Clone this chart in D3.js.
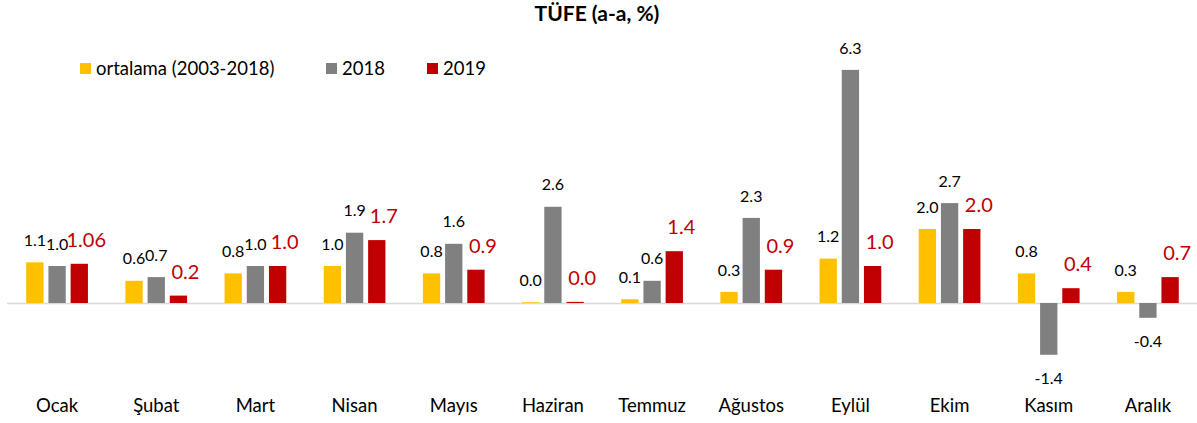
<!DOCTYPE html>
<html>
<head>
<meta charset="utf-8">
<script src="https://cdn.jsdelivr.net/npm/d3@7"></script>
<style>
  html, body { margin: 0; padding: 0; background: #fff; }
  svg { display: block; font-family: Lato, "Noto Sans", sans-serif; }
</style>
</head>
<body>
<svg id="chart" width="1197" height="423"></svg>
<script>
var months = ['Ocak', 'Şubat', 'Mart', 'Nisan', 'Mayıs', 'Haziran', 'Temmuz', 'Ağustos', 'Eylül', 'Ekim', 'Kasım', 'Aralık'];
var seriesNames = ['ortalama (2003-2018)', '2018', '2019'];
var ortalama = [1.1, 0.6, 0.8, 1.0, 0.8, 0.02, 0.1, 0.3, 1.2, 2.0, 0.8, 0.3];
var y2018 = [1.0, 0.7, 1.0, 1.9, 1.6, 2.6, 0.6, 2.3, 6.3, 2.7, -1.4, -0.4];
var y2019 = [1.06, 0.2, 1.0, 1.7, 0.9, 0.03, 1.4, 0.9, 1.0, 2.0, 0.4, 0.7];
var colors = ['#FFC000', '#808080', '#C00000'];

var svg = d3.select('#chart');

var seriesValues = [ortalama, y2018, y2019];

var x0 = d3.scaleBand().domain(months).range([7.5, 1197.5]).padding(0);
var groupWidth = 61.7;
var x1 = d3.scaleBand()
  .domain(d3.range(seriesNames.length))
  .range([(x0.bandwidth() - groupWidth) / 2, (x0.bandwidth() + groupWidth) / 2])
  .paddingInner(0.22);

var y = d3.scaleLinear().domain([-2, 7]).range([377, 44]);

// one or two decimals, like the labels in the source; plain hyphen for minus
function fmt(v) {
  var s = d3.format('.2f')(v);
  if (s.slice(-1) === '0' || Math.abs(v) < 0.05) {
    s = d3.format('.1f')(v);
  }
  return s.replace('\u2212', '-');
}

// title
svg.append('text')
  .attr('x', 597)
  .attr('y', 21)
  .attr('text-anchor', 'middle')
  .attr('font-weight', 'bold')
  .attr('font-size', 21)
  .attr('fill', '#000')
  .text('TÜFE (a-a, %)');

// legend
var legendX = [80, 326, 427];
var legend = svg.append('g').attr('class', 'legend');
seriesNames.forEach(function (name, i) {
  var item = legend.append('g').attr('transform', 'translate(' + legendX[i] + ',63)');
  item.append('rect')
    .attr('width', 11)
    .attr('height', 11)
    .attr('fill', colors[i]);
  item.append('text')
    .attr('x', 16)
    .attr('y', 12)
    .attr('font-size', 18.5)
    .attr('fill', '#000')
    .text(name);
});

// zero line
svg.append('line')
  .attr('x1', 7)
  .attr('x2', 1197)
  .attr('y1', y(0) + 0.5)
  .attr('y2', y(0) + 0.5)
  .attr('stroke', '#D9D9D9')
  .attr('stroke-width', 1.5);

var groups = svg.append('g').selectAll('g')
  .data(months)
  .join('g')
  .attr('transform', function (d) { return 'translate(' + x0(d) + ',0)'; });

groups.each(function (month, mi) {
  var g = d3.select(this);
  seriesValues.forEach(function (vals, si) {
    var v = vals[mi];
    var bx = x1(si);
    g.append('rect')
      .attr('x', bx)
      .attr('width', x1.bandwidth())
      .attr('y', Math.min(y(v), y(0)))
      .attr('height', Math.abs(y(v) - y(0)))
      .attr('fill', colors[si]);

    // red 2019 labels sit a bit higher and to the right
    var isRed = si === 2;
    var ly = v >= 0 ? y(v) - (isRed ? 24 : 22) : y(v) + 24;
    g.append('text')
      .attr('x', bx + x1.bandwidth() / 2 + (isRed ? 7 : 0))
      .attr('y', ly)
      .attr('dy', '0.35em')
      .attr('text-anchor', 'middle')
      .attr('font-size', isRed ? 20 : 16)
      .attr('fill', isRed ? '#C00000' : '#000')
      .text(fmt(v));
  });
});

// category labels
var xAxis = d3.axisBottom(x0).tickSize(0).tickPadding(0);
var axisG = svg.append('g')
  .attr('transform', 'translate(0,399)')
  .call(xAxis);
axisG.select('.domain').remove();
axisG.selectAll('text')
  .attr('font-size', 18.5)
  .attr('font-family', 'Lato, "Noto Sans", sans-serif')
  .attr('fill', '#000');
</script>
</body>
</html>
